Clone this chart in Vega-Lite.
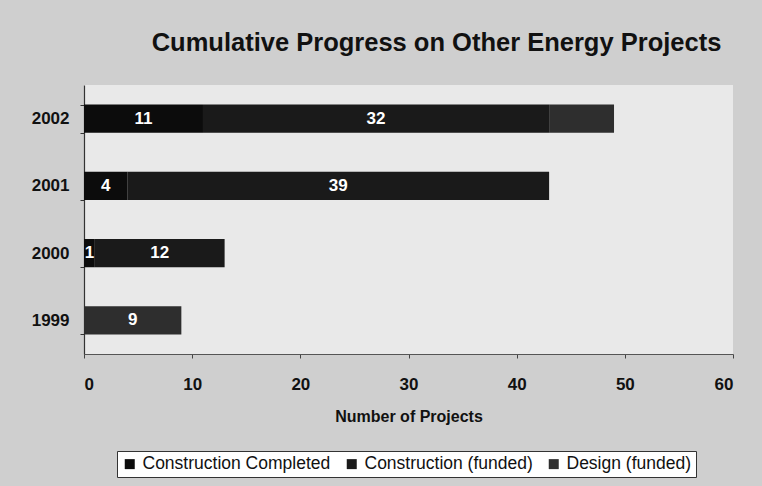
{
  "$schema": "https://vega.github.io/schema/vega-lite/v6.json",
  "width": 649,
  "height": 269,
  "autosize": "none",
  "padding": {"left": 84, "top": 85, "right": 29, "bottom": 132},
  "background": "#cfcfcf",
  "view": {"fill": "#e9e9e9", "stroke": null},
  "title": {
    "text": "Cumulative Progress on Other Energy Projects",
    "font": "Liberation Sans",
    "fontSize": 25.5,
    "fontWeight": "bold",
    "color": "#111111",
    "anchor": "middle",
    "dx": 28,
    "offset": 20
  },
  "data": {
    "values": [
      {"year": "2002", "category": "Construction Completed", "order": 1, "value": 11},
      {"year": "2002", "category": "Construction (funded)", "order": 2, "value": 32},
      {"year": "2002", "category": "Design (funded)", "order": 3, "value": 6},
      {"year": "2001", "category": "Construction Completed", "order": 1, "value": 4},
      {"year": "2001", "category": "Construction (funded)", "order": 2, "value": 39},
      {"year": "2000", "category": "Construction Completed", "order": 1, "value": 1},
      {"year": "2000", "category": "Construction (funded)", "order": 2, "value": 12},
      {"year": "1999", "category": "Design (funded)", "order": 3, "value": 9}
    ]
  },
  "transform": [
    {"window": [{"op": "sum", "field": "value", "as": "cum"}], "groupby": ["year"], "sort": [{"field": "order"}], "frame": [null, 0]},
    {"calculate": "datum.cum - datum.value / 2", "as": "mid"}
  ],
  "encoding": {
    "y": {
      "field": "year",
      "type": "nominal",
      "sort": ["2002", "2001", "2000", "1999"],
      "scale": {"paddingInner": 0.58, "paddingOuter": 0.29},
      "axis": {
        "title": null,
        "labelFont": "Liberation Sans",
        "labelFontSize": 17,
        "labelFontWeight": "bold",
        "labelColor": "#111111",
        "labelPadding": 11,
        "tickBand": "extent",
        "tickSize": 4,
        "tickColor": "#333333",
        "domainColor": "#333333",
        "domainWidth": 1.2
      }
    }
  },
  "layer": [
    {
      "mark": {"type": "bar"},
      "encoding": {
        "x": {
          "field": "value",
          "type": "quantitative",
          "stack": "zero",
          "scale": {"domain": [0, 60]},
          "axis": {
            "title": "Number of Projects",
            "titleFont": "Liberation Sans",
            "titleFontSize": 16,
            "titleFontWeight": "bold",
            "titleColor": "#111111",
            "titlePadding": 16,
            "values": [0, 10, 20, 30, 40, 50, 60],
            "labelFont": "Liberation Sans",
            "labelFontSize": 17,
            "labelFontWeight": "bold",
            "labelColor": "#111111",
            "labelPadding": 18,
            "grid": false,
            "tickSize": 4,
            "tickColor": "#444444",
            "domainColor": "#555555",
            "domainWidth": 1
          }
        },
        "color": {
          "field": "category",
          "type": "nominal",
          "scale": {
            "domain": ["Construction Completed", "Construction (funded)", "Design (funded)"],
            "range": ["#0c0c0c", "#1a1a1a", "#2e2e2e"]
          },
          "legend": {
            "title": null,
            "orient": "none",
            "legendX": 33,
            "legendY": 366,
            "direction": "horizontal",
            "symbolType": "square",
            "symbolSize": 100,
            "symbolStrokeWidth": 0,
            "labelFont": "Liberation Sans",
            "labelFontSize": 17.5,
            "labelColor": "#111111",
            "labelLimit": 300,
            "labelOffset": 4,
            "columnPadding": 12,
            "symbolOffset": 0,
            "strokeColor": "#333333",
            "fillColor": "#ffffff",
            "padding": 4
          }
        },
        "order": {"field": "order", "type": "quantitative"}
      }
    },
    {
      "transform": [{"filter": "!(datum.year == '2002' && datum.category == 'Design (funded)')"}],
      "mark": {"type": "text", "font": "Liberation Sans", "fontSize": 17, "fontWeight": "bold", "color": "#ffffff"},
      "encoding": {
        "x": {"field": "mid", "type": "quantitative"},
        "text": {"field": "value", "type": "quantitative"}
      }
    }
  ]
}
